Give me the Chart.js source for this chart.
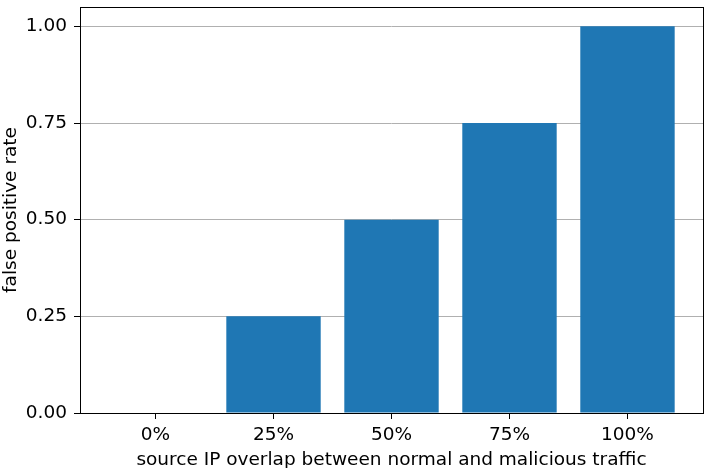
<!DOCTYPE html>
<html>
<head>
<meta charset="utf-8">
<script src="https://cdn.jsdelivr.net/npm/chart.js@4/dist/chart.umd.min.js"></script>
<style>
  html, body { margin: 0; padding: 0; background: #fff; }
  canvas { display: block; }
</style>
</head>
<body>
<canvas id="chart" width="707" height="468"></canvas>
<script>
// data ----------------------------------------------------------
const categories = ["0%", "25%", "50%", "75%", "100%"];
const fpRate     = [0, 0.25, 0.5, 0.75, 1.0];
const yTicks     = [0, 0.25, 0.5, 0.75, 1.0];

const FONT = "'DejaVu Sans', sans-serif";
const FSIZE = 18.5;

// black frame round the plot area (matplotlib spines)
const framePlugin = {
  id: "frame",
  afterDraw(chart) {
    const { ctx, chartArea: a } = chart;
    ctx.save();
    ctx.strokeStyle = "#000";
    ctx.lineWidth = 1;
    ctx.strokeRect(Math.round(a.left) + 0.5, Math.round(a.top) + 0.5,
                   Math.round(a.right - a.left), Math.round(a.bottom - a.top));
    ctx.restore();
  }
};

new Chart(document.getElementById("chart"), {
  type: "bar",
  data: {
    datasets: [{
      data: fpRate.map((v, i) => ({ x: i, y: v })),
      backgroundColor: "#1f77b4",
      borderWidth: 0,
      categoryPercentage: 1,
      barPercentage: 0.8,
    }]
  },
  options: {
    responsive: false,
    animation: false,
    devicePixelRatio: 1,
    layout: { padding: { top: 7, right: 4, left: 0, bottom: 0 } },
    plugins: { legend: { display: false }, tooltip: { enabled: false } },
    scales: {
      x: {
        type: "linear",
        min: -0.64,
        max: 4.64,
        offset: false,
        afterBuildTicks: s => { s.ticks = categories.map((c, i) => ({ value: i })); },
        afterFit: s => { s.height = 55; s.paddingLeft = 0; s.paddingRight = 0; },
        grid: { offset: false, drawOnChartArea: false, tickLength: 6, tickColor: "#000" },
        border: { display: false },
        ticks: {
          callback: v => categories[v],
          color: "#000",
          font: { family: FONT, size: FSIZE },
          padding: 5,
          maxRotation: 0,
        },
        title: {
          display: true,
          text: "source IP overlap between normal and malicious traffic",
          color: "#000",
          font: { family: FONT, size: FSIZE },
          padding: { top: 0, bottom: -3 },
        }
      },
      y: {
        min: 0,
        max: 1.05,
        z: 1,
        afterBuildTicks: s => { s.ticks = yTicks.map(v => ({ value: v })); },
        afterFit: s => { s.width = 80; s.paddingTop = 0; s.paddingBottom = 0; },
        grid: { color: "#b0b0b0", lineWidth: 1, tickLength: 6, tickColor: "#000" },
        border: { display: false },
        ticks: {
          callback: v => v.toFixed(2),
          color: "#000",
          font: { family: FONT, size: FSIZE },
          padding: 7,
        },
        title: {
          display: true,
          text: "false positive rate",
          color: "#000",
          font: { family: FONT, size: FSIZE },
          padding: { top: 0, bottom: 0 },
        }
      }
    }
  },
  plugins: [framePlugin]
});
</script>
</body>
</html>
